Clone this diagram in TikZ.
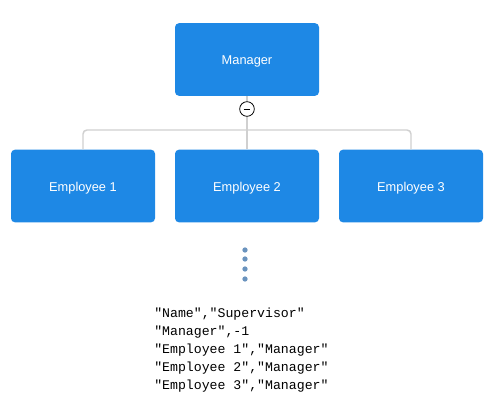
\documentclass[tikz,border=0pt]{standalone}
\usepackage{fontspec}
\setmainfont{Liberation Sans}
\setmonofont{Liberation Mono}
\usetikzlibrary{positioning}
\definecolor{boxblue}{HTML}{1E88E5}
\definecolor{linkgrey}{HTML}{D0D0D0}
\definecolor{dotblue}{HTML}{6A93BE}

\begin{document}
\begin{tikzpicture}[
    x=0.75pt, y=-0.75pt,
    person/.style={fill=boxblue, draw=none, rounded corners=3pt, minimum width=108pt,
        minimum height=54.5pt, text=white, font=\fontsize{9.6}{11}\selectfont,
        text depth=0pt, text height=7.6pt},
    link/.style={draw=linkgrey, line width=1.1pt},
    dot/.style={fill=dotblue, circle, inner sep=1.4pt}
]
\useasboundingbox (0,0) rectangle (491,411);

% Boxes
\node[person] (manager) at (247,59.5) {Manager};
\node[person] (emp1) at (83,186) {Employee 1};
\node[person] (emp2) at (247,186) {Employee 2};
\node[person] (emp3) at (411,186) {Employee 3};

% Connectors
\coordinate (bus) at (247,130);
\draw[link] (manager.south) -- (emp2.north);
\draw[link, rounded corners=3pt] (emp1.north) |- (bus) -| (emp3.north);

% Collapse button
\node[circle, draw=black, fill=white, line width=0.6pt, minimum size=11pt, inner sep=0pt] (toggle) at (247,109) {};
\draw[line width=0.6pt] ([xshift=-2.5pt]toggle.center) -- ([xshift=2.5pt]toggle.center);

% Ellipsis
\foreach \y [count=\i] in {250,259,269,279}
    \node[dot] (dot\i) at (245,\y) {};

% CSV text
\node[anchor=north west, align=left, inner sep=0pt, font=\ttfamily\fontsize{9.9}{13.5}\selectfont] (csv) at (154,308) {%
"Name","Supervisor"\\
"Manager",-1\\
"Employee 1","Manager"\\
"Employee 2","Manager"\\
"Employee 3","Manager"};

\end{tikzpicture}
\end{document}
